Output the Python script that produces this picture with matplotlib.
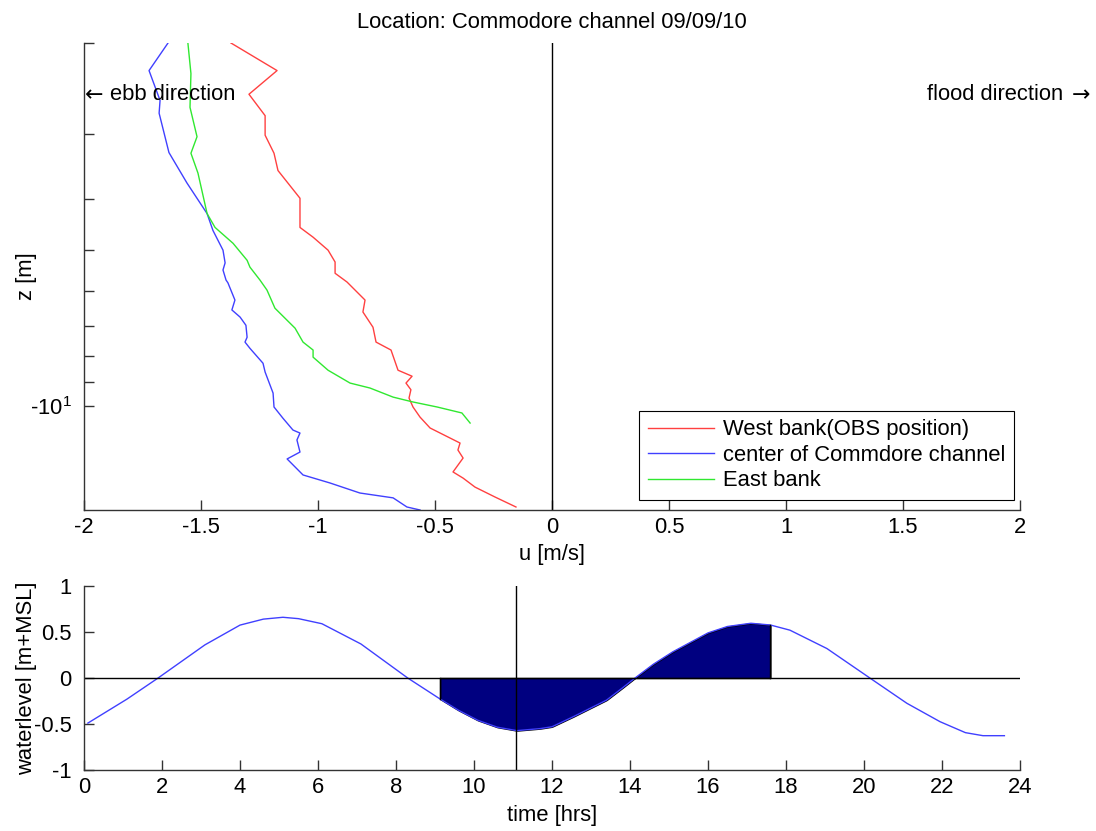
import matplotlib
matplotlib.use('Agg')
import matplotlib.pyplot as plt
import numpy as np

plt.rcParams['font.family'] = ['Liberation Sans', 'DejaVu Sans']
plt.rcParams['mathtext.fontset'] = 'custom'
plt.rcParams['mathtext.rm'] = 'Liberation Sans'
plt.rcParams['axes.unicode_minus'] = False

# velocity profiles (depth below surface [m], u [m/s])
west_z = [2.00, 2.26, 2.51, 2.76, 3.01, 3.26, 3.52, 3.98, 4.53, 4.73, 5.01, 5.28, 5.55, 5.77,
          6.25, 6.59, 7.05, 7.53, 7.80, 8.53, 8.76, 9.03, 9.30, 9.65, 10.04, 10.50, 11.02,
          11.78, 12.15, 12.59, 13.39, 13.76, 14.32, 14.96, 15.64]
west_u = [-1.372, -1.175, -1.295, -1.226, -1.226, -1.188, -1.171, -1.077, -1.077, -1.021,
          -0.957, -0.927, -0.927, -0.876, -0.799, -0.808, -0.765, -0.752, -0.688, -0.658,
          -0.598, -0.624, -0.603, -0.611, -0.594, -0.564, -0.521, -0.393, -0.402, -0.380,
          -0.423, -0.380, -0.329, -0.244, -0.154]
center_z = [2.00, 2.26, 2.58, 2.73, 3.25, 3.72, 4.26, 4.59, 5.01, 5.30, 5.47, 5.72, 5.79,
            6.25, 6.53, 6.74, 6.99, 7.37, 7.53, 7.74, 8.27, 8.60, 9.44, 10.04, 10.55, 11.12,
            11.27, 11.62, 12.26, 12.64, 13.57, 14.06, 14.70, 15.02, 15.64, 15.85]
center_u = [-1.641, -1.722, -1.675, -1.679, -1.637, -1.560, -1.474, -1.449, -1.406, -1.397,
            -1.406, -1.393, -1.385, -1.355, -1.368, -1.333, -1.308, -1.303, -1.312, -1.291,
            -1.235, -1.226, -1.192, -1.188, -1.150, -1.107, -1.077, -1.090, -1.077, -1.132,
            -1.064, -0.949, -0.821, -0.679, -0.620, -0.564]
east_z = [2.00, 2.29, 2.66, 3.03, 3.26, 3.56, 4.26, 4.53, 4.86, 5.24, 5.40, 5.72, 5.98, 6.48,
          7.08, 7.53, 7.80, 8.05, 8.53, 9.03, 9.23, 9.61, 9.82, 10.04, 10.31, 10.78]
east_u = [-1.556, -1.543, -1.547, -1.517, -1.543, -1.513, -1.474, -1.440, -1.363, -1.303,
          -1.291, -1.248, -1.218, -1.184, -1.098, -1.064, -1.021, -1.021, -0.957, -0.863,
          -0.778, -0.679, -0.594, -0.491, -0.385, -0.350]

# tide (hours, m+MSL)
t_hrs = [0.1, 1.1, 1.9, 3.1, 4.0, 4.6, 5.1, 5.5, 6.1, 7.1, 8.3, 9.1, 9.6, 10.1, 10.6, 11.1,
         11.7, 12.0, 12.55, 13.4, 13.8, 14.13, 14.6, 15.1, 16.0, 16.5, 17.1, 17.6, 18.1,
         19.05, 20.15, 21.1, 21.95, 22.6, 23.05, 23.6]
wl = [-0.49, -0.23, 0.0, 0.36, 0.575, 0.64, 0.66, 0.645, 0.59, 0.37, 0.0, -0.22, -0.35,
      -0.46, -0.535, -0.572, -0.55, -0.53, -0.42, -0.24, -0.11, 0.0, 0.15, 0.285, 0.49,
      0.56, 0.595, 0.576, 0.52, 0.32, 0.0, -0.275, -0.475, -0.594, -0.627, -0.627]
t_now = 11.07
t_fill = [9.13, 17.6]

fig = plt.figure(figsize=(10.96, 8.31), dpi=100)
W, H = 1096, 831
ax1 = fig.add_axes([84 / W, 1 - 510 / H, 936 / W, 467 / H])
ax2 = fig.add_axes([84 / W, 1 - 770 / H, 936 / W, 184 / H])
fs = 15.8
spc = '#333333'

ax1.plot(west_u, west_z, color='#ff4040', lw=1, label='West bank(OBS position)')
ax1.plot(center_u, center_z, color='#4040ff', lw=1, label='center of Commdore channel')
ax1.plot(east_u, east_z, color='#30e830', lw=1, label='East bank')
ax1.axvline(0, color='k', lw=1)
ax1.set_yscale('log')
ax1.set_ylim(15.85, 2.0)
ax1.set_xlim(-2, 2)
ax1.set_xticks(np.arange(-2, 2.01, 0.5))
ax1.set_xticklabels(['-2', '-1.5', '-1', '-0.5', '0', '0.5', '1', '1.5', '2'])
ax1.set_yticks([10])
ax1.set_yticklabels([r'-$10^{1}$'])
ax1.set_yticks([2, 3, 4, 5, 6, 7, 8, 9], minor=True)
ax1.yaxis.set_minor_formatter(matplotlib.ticker.NullFormatter())
ax1.set_xlabel('u [m/s]', fontsize=fs)
ax1.xaxis.set_label_coords(0.5, -0.072)
ax1.set_ylabel('z [m]', fontsize=fs)
ax1.yaxis.set_label_coords(-0.050, 0.5)
ax1.set_title('Location: Commodore channel 09/09/10', fontsize=fs, pad=11)
ty = 0.8887
ax1.text(0.001, ty, '\u2190', transform=ax1.transAxes, fontsize=fs, family='DejaVu Sans',
         va='center', ha='left')
ax1.text(0.028, ty, 'ebb direction', transform=ax1.transAxes, fontsize=fs,
         va='center', ha='left')
ax1.text(1.046, ty, 'flood direction', transform=ax1.transAxes, fontsize=fs,
         va='center', ha='right')
ax1.text(1.075, ty, '\u2192', transform=ax1.transAxes, fontsize=fs, family='DejaVu Sans',
         va='center', ha='right')
leg = ax1.legend(loc='lower right', bbox_to_anchor=(0.9936, 0.0214), borderaxespad=0,
                 fontsize=fs, fancybox=False, edgecolor='k', framealpha=1,
                 handlelength=3.0, handletextpad=0.4, borderpad=0.4, labelspacing=0.2)
leg.get_frame().set_linewidth(0.8)

ax2.plot(t_hrs, wl, color='#4040ff', lw=1)
tf = np.linspace(t_fill[0], t_fill[1], 300)
hf = np.interp(tf, t_hrs, wl)
ax2.fill_between(tf, hf, 0, facecolor='#000080', edgecolor='k', lw=1)
ax2.plot([t_fill[0], t_fill[0]], [0, hf[0]], color='k', lw=1)
ax2.plot([t_fill[1], t_fill[1]], [0, hf[-1]], color='k', lw=1)
ax2.axhline(0, color='k', lw=1)
ax2.axvline(t_now, color='k', lw=1)
ax2.set_xlim(0, 24)
ax2.set_ylim(-1, 1)
ax2.set_xticks(range(0, 25, 2))
ax2.set_yticks([-1, -0.5, 0, 0.5, 1])
ax2.set_yticklabels(['-1', '-0.5', '0', '0.5', '1'])
ax2.set_xlabel('time [hrs]', fontsize=fs)
ax2.xaxis.set_label_coords(0.5, -0.19)
ax2.set_ylabel('waterlevel [m+MSL]', fontsize=fs)
ax2.yaxis.set_label_coords(-0.050, 0.5)

for ax in (ax1, ax2):
    for s in ('top', 'right'):
        ax.spines[s].set_visible(False)
    for s in ('left', 'bottom'):
        ax.spines[s].set_color(spc)
        ax.spines[s].set_linewidth(1)
    ax.tick_params(which='both', direction='in', length=7, width=1, color=spc,
                   labelsize=fs)
    ax.tick_params(axis='x', pad=5)
    ax.tick_params(axis='y', pad=9)

fig.savefig('out.png', dpi=100)
